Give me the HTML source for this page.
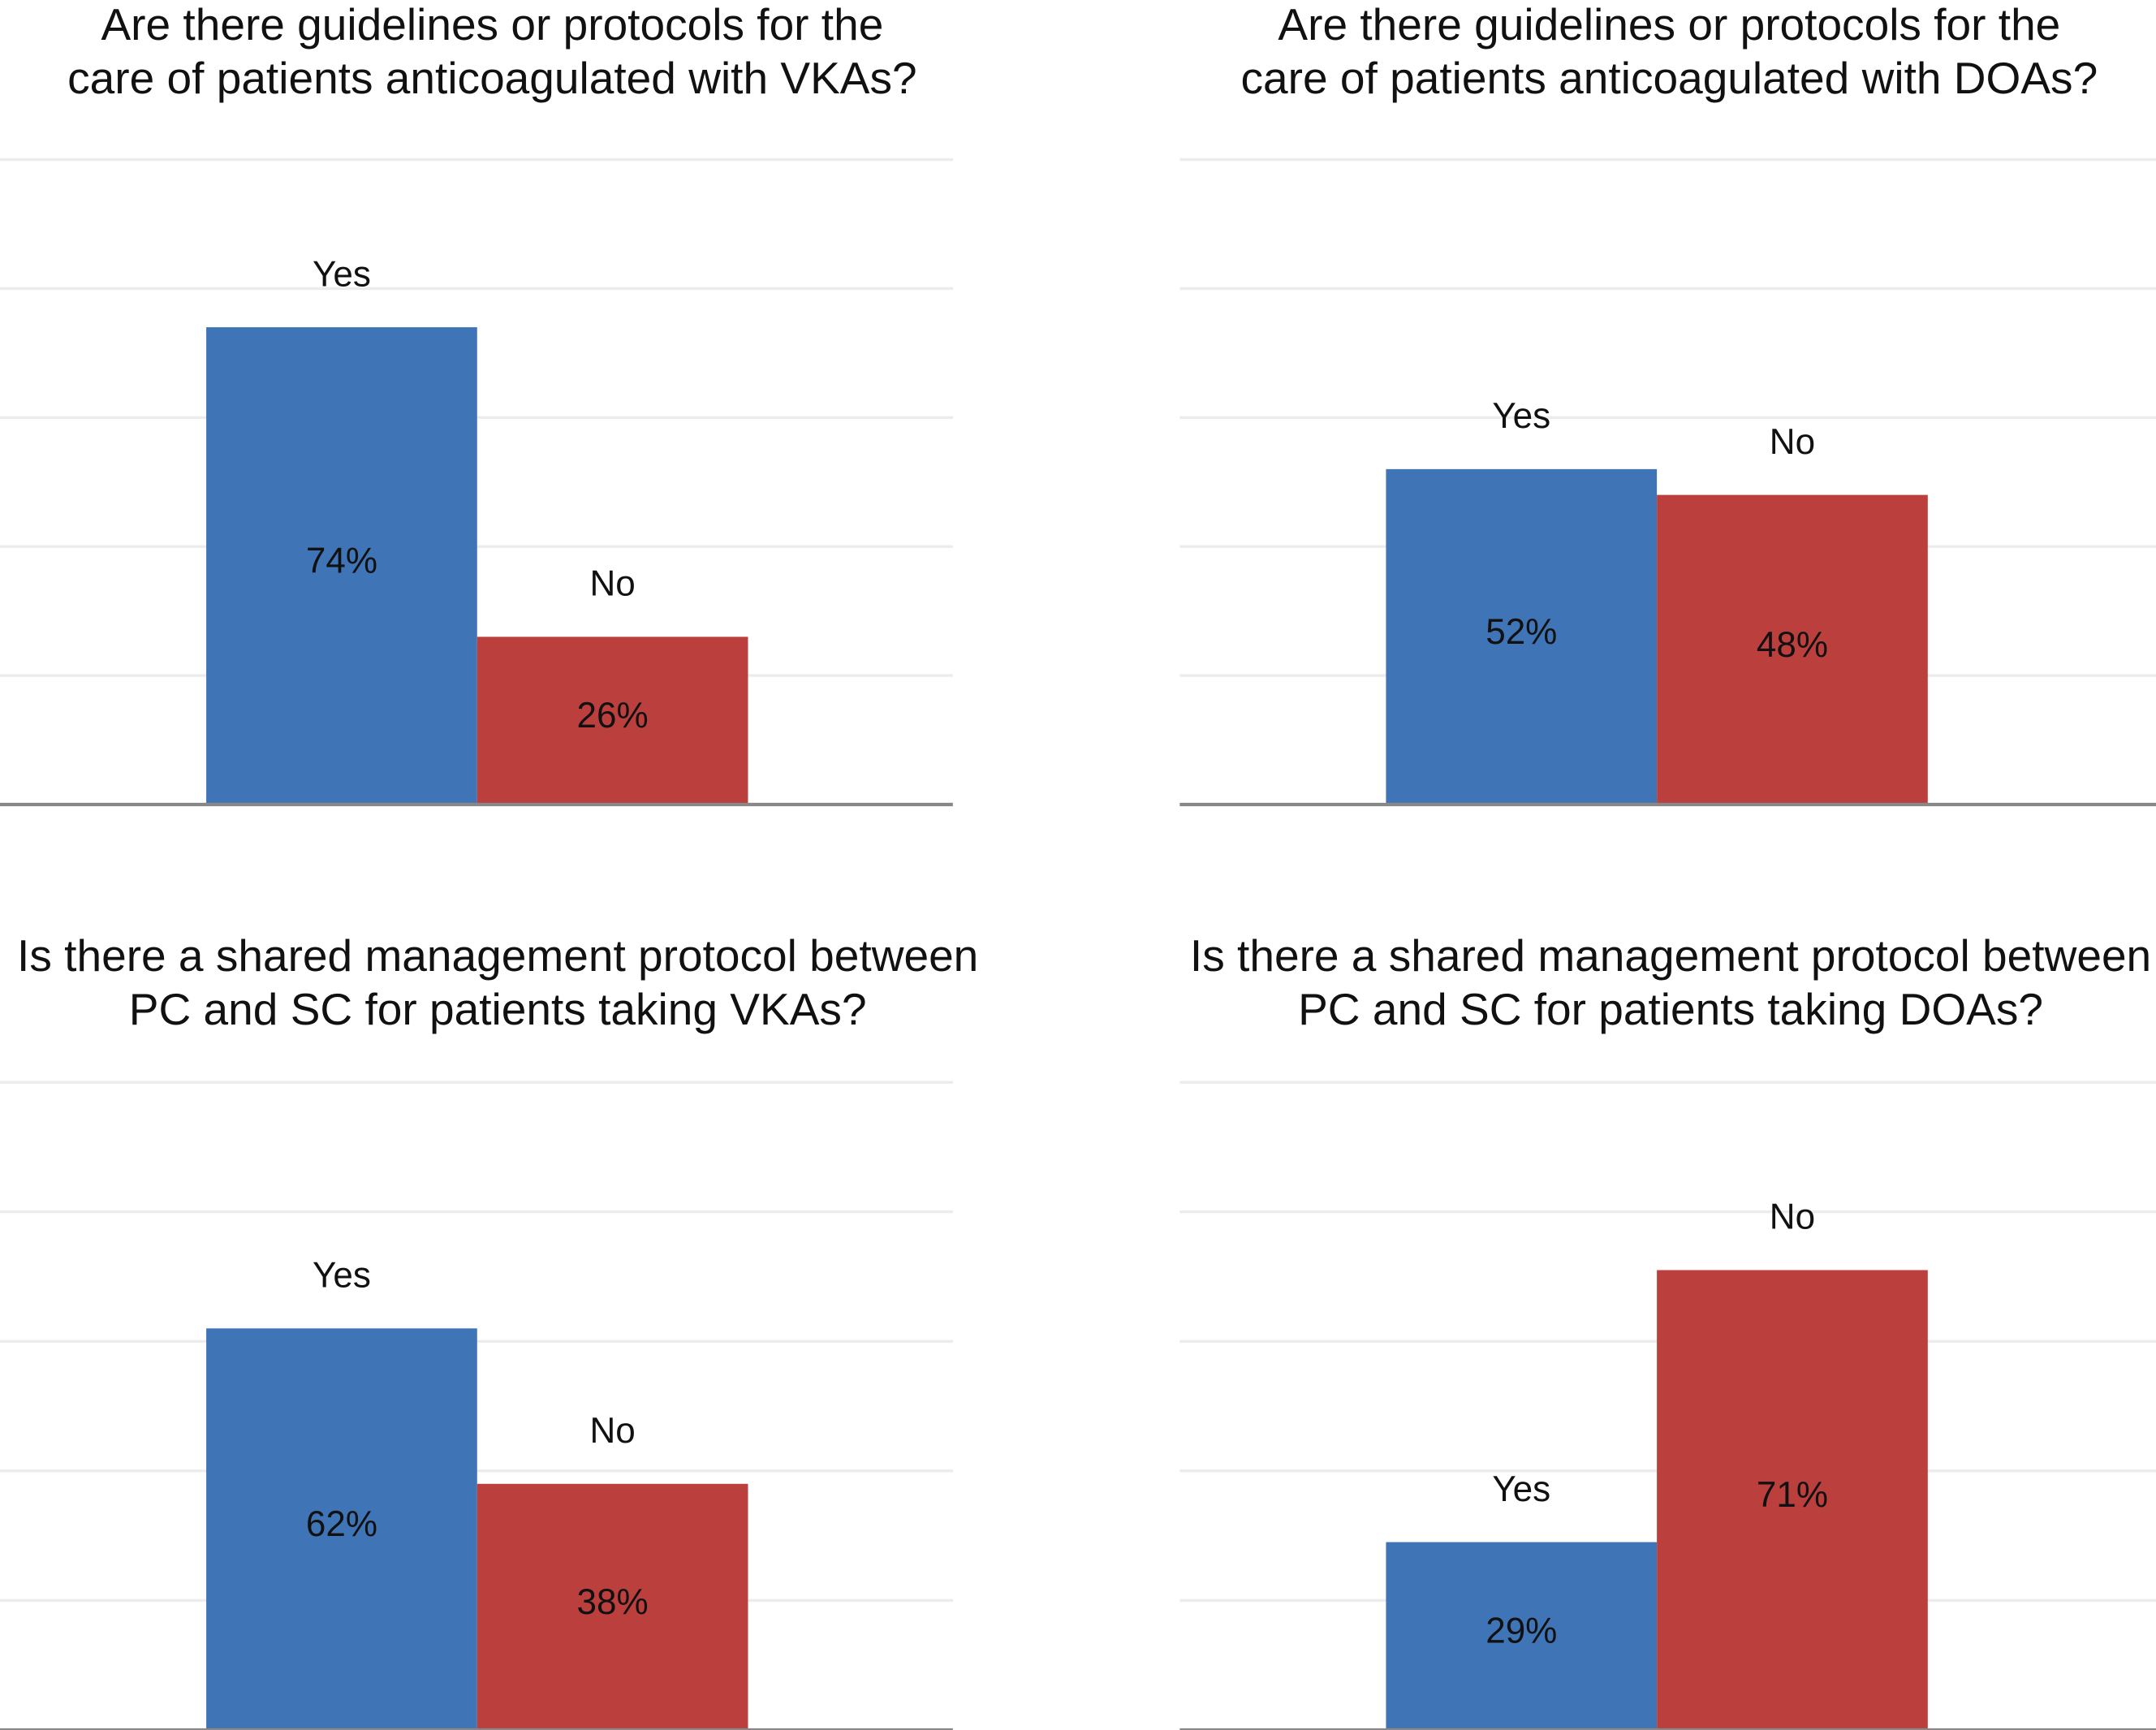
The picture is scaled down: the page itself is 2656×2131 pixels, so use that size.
<!DOCTYPE html>
<html><head><meta charset="utf-8"><style>
html,body{margin:0;padding:0;background:#fff;}
svg{display:block;}
text{font-family:"Liberation Sans",sans-serif;fill:#111;}
</style></head><body>
<svg id="chart" width="2656" height="2131" viewBox="0 0 1568 1258" xmlns="http://www.w3.org/2000/svg"></svg>
<script>
const categories = ["Yes", "No"];
const titles = [
  ["Are there guidelines or protocols for the", "care of patients anticoagulated with VKAs?"],
  ["Are there guidelines or protocols for the", "care of patients anticoagulated with DOAs?"],
  ["Is there a shared management protocol between", "PC and SC for patients taking VKAs?"],
  ["Is there a shared management protocol between", "PC and SC for patients taking DOAs?"]
];
const valuesVkaGuide = [74, 26];
const valuesDoaGuide = [52, 48];
const valuesVkaShared = [62, 38];
const valuesDoaShared = [29, 71];
const gridTicks = [0, 20, 40, 60, 80, 100];

const panels = [
  {vals: valuesVkaGuide, x0: 0, x1: 693, bar0: 150, base: 585, top: 116, ty: 29, tcx: 358},
  {vals: valuesDoaGuide, x0: 858, x1: 1568, bar0: 1008, base: 585, top: 116, ty: 29, tcx: 1214},
  {vals: valuesVkaShared, x0: 0, x1: 693, bar0: 150, base: 1258, top: 787, ty: 706, tcx: 362},
  {vals: valuesDoaShared, x0: 858, x1: 1568, bar0: 1008, base: 1258, top: 787, ty: 706, tcx: 1215}
];
const colors = ["#3f75b7", "#bb403d"];
const barW = 197;
const NS = "http://www.w3.org/2000/svg";
const svg = document.getElementById("chart");
function mk(tag, attrs, parent) {
  const e = document.createElementNS(NS, tag);
  for (const k in attrs) e.setAttribute(k, attrs[k]);
  parent.appendChild(e);
  return e;
}
panels.forEach((p, pi) => {
  const g = mk("g", {}, svg);
  
  
  const y = v => p.base - (v / 100) * (p.base - p.top);
  titles[pi].forEach((line, li) => {
    const t = mk("text", {x: p.tcx, y: p.ty + li * 39, "text-anchor": "middle", "font-size": 32.5}, g);
    
    
    t.textContent = line;
  });
  gridTicks.forEach(v => {
    if (v === 0) return;
    const l = mk("line", {x1: p.x0, x2: p.x1, y1: y(v), y2: y(v), stroke: "#ececec", "stroke-width": 2}, g);
    
    
  });
  p.vals.forEach((v, i) => {
    const bx = p.bar0 + i * barW;
    const r = mk("rect", {x: bx, y: y(v), width: barW, height: y(0) - y(v), fill: colors[i]}, g);
    
    
    const c = mk("text", {x: bx + barW / 2, y: y(v) - 30, "text-anchor": "middle", "font-size": 26}, g);
    
    
    c.textContent = categories[i];
    const vl = mk("text", {x: bx + barW / 2, y: (y(v) + y(0)) / 2 + 5, "text-anchor": "middle", "font-size": 26}, g);
    
    
    vl.textContent = v + "%";
  });
  const b = mk("line", {x1: p.x0, x2: p.x1, y1: p.base, y2: p.base, stroke: "#888", "stroke-width": 2.5}, g);
  
  
});
</script>
</body></html>
